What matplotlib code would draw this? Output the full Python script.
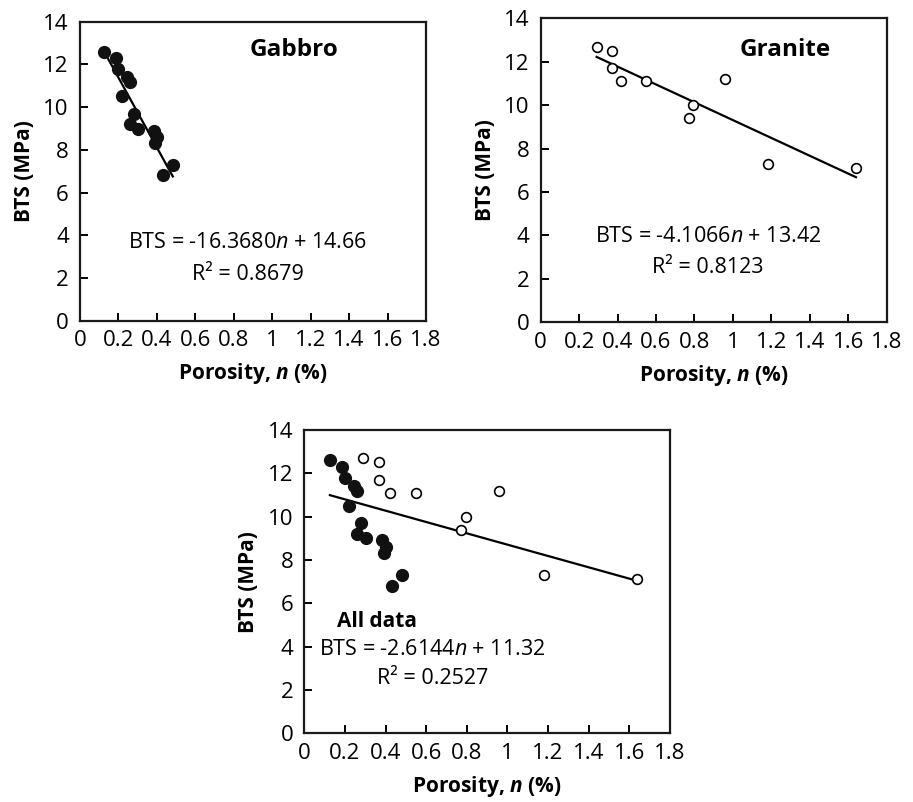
import matplotlib
matplotlib.use("Agg")
import matplotlib.pyplot as plt
import numpy as np

plt.rcParams['font.family'] = ['Open Sans', 'DejaVu Sans']
plt.rcParams['mathtext.fontset'] = 'custom'
plt.rcParams['mathtext.rm'] = 'Open Sans'
plt.rcParams['mathtext.it'] = 'Open Sans:italic:bold'
plt.rcParams['mathtext.sf'] = 'Open Sans:italic'
plt.rcParams['mathtext.bf'] = 'Open Sans:bold'

# Data
gabbro_n = [0.126, 0.187, 0.200, 0.245, 0.261, 0.220, 0.279, 0.258, 0.302, 0.384, 0.400, 0.391, 0.483, 0.433]
gabbro_bts = [12.6, 12.3, 11.8, 11.4, 11.2, 10.5, 9.7, 9.2, 9.0, 8.9, 8.6, 8.3, 7.3, 6.8]
granite_n = [0.291, 0.369, 0.369, 0.420, 0.550, 0.960, 0.794, 0.771, 1.180, 1.640]
granite_bts = [12.7, 12.5, 11.7, 11.1, 11.1, 11.2, 10.0, 9.4, 7.3, 7.1]

fit_gabbro = (-16.3680, 14.66, 0.8679)
fit_granite = (-4.1066, 13.42, 0.8123)
fit_all = (-2.6144, 11.32, 0.2527)

xticks = [0, 0.2, 0.4, 0.6, 0.8, 1.0, 1.2, 1.4, 1.6, 1.8]
xticklabels = ['0', '0.2', '0.4', '0.6', '0.8', '1', '1.2', '1.4', '1.6', '1.8']
yticks = [0, 2, 4, 6, 8, 10, 12, 14]

fig = plt.figure(figsize=(9.13, 8.02), dpi=100)

ax1 = fig.add_axes([0.0876, 0.6001, 0.379, 0.3728])
ax2 = fig.add_axes([0.5922, 0.5981, 0.379, 0.379])
ax3 = fig.add_axes([0.3333, 0.0857, 0.4005, 0.3782])

TICK_FS = 16
LAB_FS = 15
EQ_FS = 15.5
TITLE_FS = 17.5

def style(ax):
    ax.set_xlim(0, 1.8)
    ax.set_ylim(0, 14)
    ax.set_xticks(xticks)
    ax.set_xticklabels(xticklabels)
    ax.set_yticks(yticks)
    ax.tick_params(direction='in', length=6, width=1.4, labelsize=TICK_FS,
                   top=False, right=False)
    ax.tick_params(axis='x', pad=7)
    ax.tick_params(axis='y', pad=8)
    for s in ax.spines.values():
        s.set_linewidth(1.6)
        s.set_color('#1a1a1a')
    ax.set_xlabel(r'Porosity, $\mathit{n}$ (%)', fontsize=LAB_FS, fontweight='bold', labelpad=7)
    ax.set_ylabel('BTS (MPa)', fontsize=LAB_FS, fontweight='bold', labelpad=6)

def fitline(ax, xs, fit):
    x = np.array([min(xs), max(xs)])
    ax.plot(x, fit[0] * x + fit[1], color='black', lw=1.6, zorder=2)

def eqtext(ax, fit, x, y1, y2):
    ax.text(x, y1, 'BTS = %.4f$\\mathsf{n}$ + %.2f' % (fit[0], fit[1]), transform=ax.transAxes,
            ha='center', va='center', fontsize=EQ_FS)
    ax.text(x, y2, 'R² = %.4f' % fit[2], transform=ax.transAxes,
            ha='center', va='center', fontsize=EQ_FS)

# Gabbro
style(ax1)
ax1.plot(gabbro_n, gabbro_bts, 'o', color='#111111', ms=8.5, zorder=3)
fitline(ax1, gabbro_n, fit_gabbro)
ax1.text(0.618, 0.905, 'Gabbro', transform=ax1.transAxes, ha='center', va='center',
         fontsize=TITLE_FS, fontweight='bold')
eqtext(ax1, fit_gabbro, 0.484, 0.26, 0.153)

# Granite
style(ax2)
ax2.plot(granite_n, granite_bts, 'o', mfc='white', mec='black', mew=1.2, ms=7, zorder=3)
fitline(ax2, granite_n, fit_granite)
ax2.text(0.706, 0.896, 'Granite', transform=ax2.transAxes, ha='center', va='center',
         fontsize=TITLE_FS, fontweight='bold')
eqtext(ax2, fit_granite, 0.484, 0.281, 0.182)

# All data
style(ax3)
ax3.plot(gabbro_n, gabbro_bts, 'o', color='#111111', ms=8.5, zorder=3)
ax3.plot(granite_n, granite_bts, 'o', mfc='white', mec='black', mew=1.2, ms=7, zorder=3)
all_n = gabbro_n + granite_n
fitline(ax3, all_n, fit_all)
ax3.text(0.2, 0.37, 'All data', transform=ax3.transAxes, ha='center', va='center',
         fontsize=LAB_FS, fontweight='bold')
eqtext(ax3, fit_all, 0.35, 0.276, 0.18)

fig.savefig('out.png', dpi=100)
